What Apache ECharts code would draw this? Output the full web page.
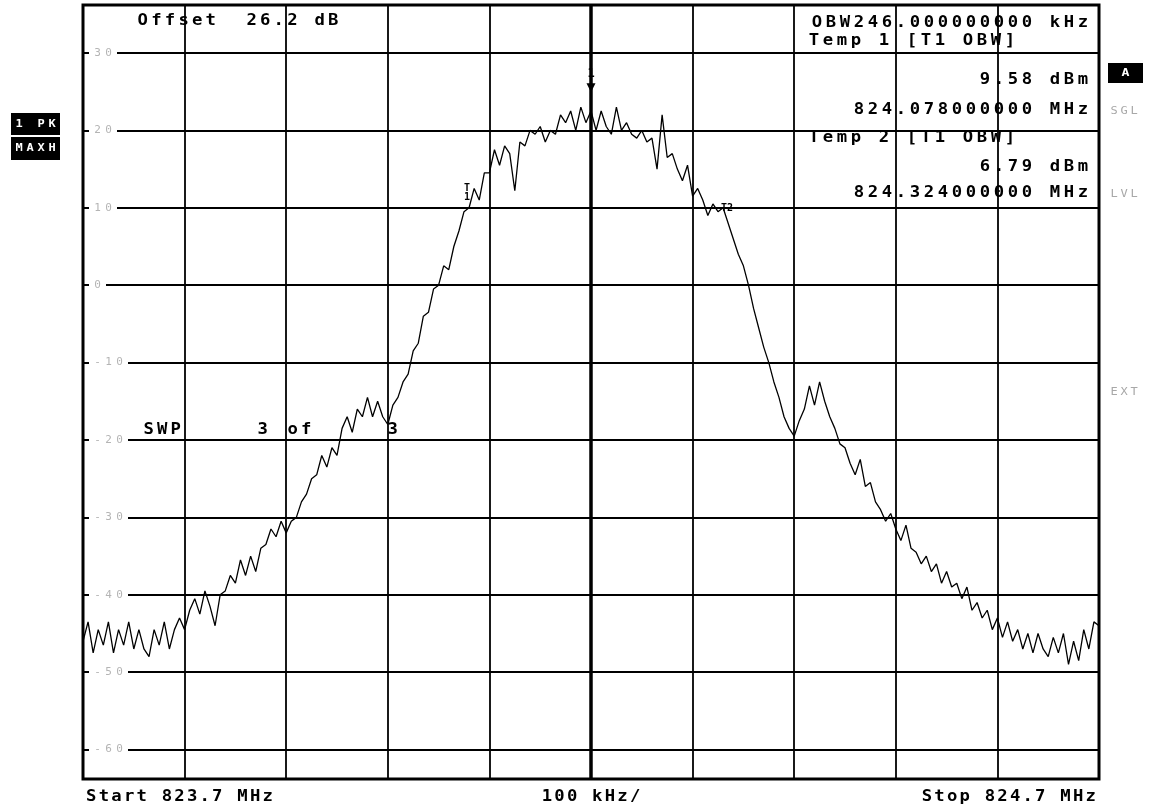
<!DOCTYPE html>
<html><head><meta charset="utf-8">
<script src="https://cdn.jsdelivr.net/npm/echarts@6/dist/echarts.min.js"></script>
<style>html,body{margin:0;padding:0;background:#fff}#c{width:1154px;height:811px}</style>
</head><body><div id="c"></div>
<script>
// Sweep: 823.7 MHz .. 824.7 MHz, 5 kHz per point
const freqStartMHz = 823.7;
const freqStopMHz = 824.7;
const freqStepMHz = 0.005;
const levelsDbm = [
 -46,-43.5,-47.5,-44.5,-46.5,-43.5,-47.5,-44.5,-46.5,-43.5,
 -47,-44.5,-47,-48,-44.5,-46.5,-43.5,-47,-44.5,-43,
 -44.5,-42,-40.5,-42.5,-39.5,-41.5,-44,-40,-39.5,-37.5,
 -38.5,-35.5,-37.5,-35,-37,-34,-33.5,-31.5,-32.5,-30.5,
 -32,-30.5,-30,-28,-27,-25,-24.5,-22,-23.5,-21,
 -22,-18.5,-17,-19,-16,-17,-14.5,-17,-15,-17,
 -18,-15.5,-14.5,-12.5,-11.5,-8.5,-7.5,-4,-3.5,-0.5,
 0,2.5,2,5,7,9.5,10,12.5,11,14.5,
 14.5,17.5,15.5,18,17,12.2,18.5,18,20,19.5,
 20.5,18.5,20,19.5,22,21,22.5,20,23,21,
 22.5,20,22.5,20.5,19.5,23,20,21,19.5,19,
 20,18.5,19,15,22,16.5,17,15,13.5,15.5,
 11.5,12.5,11,9,10.5,9.5,10,8,6,4,
 2.5,0,-3,-5.5,-8,-10,-12.5,-14.5,-17,-18.5,
 -19.5,-17.5,-16,-13,-15.5,-12.5,-15,-17,-18.5,-20.5,
 -21,-23,-24.5,-22.5,-26,-25.5,-28,-29,-30.5,-29.5,
 -31.5,-33,-31,-34,-34.5,-36,-35,-37,-36,-38.5,
 -37,-39,-38.5,-40.5,-39,-42,-41,-43,-42,-44.5,
 -43,-45.5,-43.5,-46,-44.5,-47,-45,-47.5,-45,-47,
 -48,-45.5,-47.5,-45,-49,-46,-48.5,-44.5,-47,-43.5,
 -44
];
const refLevelDbm = 36.2;
const bottomLevelDbm = -63.8;
const centerFreqMHz = 824.2;
const peakMarker = [824.2, 25.5];
const temp1 = [824.078, 9.58];
const temp2 = [824.324, 6.79];

const mono = "'DejaVu Sans Mono', monospace";
const SX = 1.15;
function spaced(s){ return s.split('').map(ch => '{c|' + (ch === ' ' ? '\u00a0' : ch) + '}').join(''); }
function txt(str, x, y, pitch, align, opts){
  opts = opts || {};
  const sx = opts.sx || SX;
  return { type:'text', x:x, y:y, z:100, scaleX: sx, style:{
    text: spaced(str), align: align, verticalAlign:'middle',
    rich:{ c:{ width: pitch / sx, align:'center', fontFamily: mono, fontSize: opts.size || 15,
      fontWeight: opts.weight || 'bold', fill: opts.color || '#000', color: opts.color || '#000' } } } };
}

const data = levelsDbm.map((v,i) => [+(freqStartMHz + i*freqStepMHz).toFixed(4), v]);

const chart = echarts.init(document.getElementById('c'));
chart.setOption({
  animation:false,
  backgroundColor:'#fff',
  grid:{ left:83, right:55, top:5, bottom:32, show:true, borderColor:'#000', borderWidth:3, backgroundColor:'#fff' },
  xAxis:{ type:'value', min:freqStartMHz, max:freqStopMHz, interval:0.1,
    axisLine:{show:false}, axisTick:{show:false}, axisLabel:{show:false},
    splitLine:{ show:true, lineStyle:{ color:'#000', width:1.8 } } },
  yAxis:{ type:'value', min:bottomLevelDbm, max:refLevelDbm, splitNumber:10, minInterval:10, maxInterval:10,
    axisLine:{show:false}, axisTick:{show:false},
    axisLabel:{ inside:true, margin:6, showMinLabel:false, showMaxLabel:false,
      formatter: v => (Math.abs(v/10 - Math.round(v/10)) < 1e-6 ? spaced(String(Math.round(v))) : ''),
      backgroundColor:'#fff', padding:[1,3,1,3],
      rich:{ c:{ width:11, align:'center', color:'#b4b4b4', fontSize:11, fontFamily: mono } } },
    splitLine:{ show:true, lineStyle:{ color:'#000', width:1.8 } } },
  series:[{
    type:'line', data:data, showSymbol:false, z:5,
    lineStyle:{ color:'#000', width:1.3 },
    markLine:{ silent:true, symbol:'none', label:{show:false},
      lineStyle:{ color:'#000', width:3.5, type:'solid' },
      data:[ { xAxis: centerFreqMHz } ] },
    markPoint:{ silent:true,
      data:[
        { coord: peakMarker, symbol:'triangle', symbolRotate:180, symbolSize:[9,9],
          itemStyle:{color:'#000'},
          label:{ show:true, position:'top', distance:3, formatter:'1', color:'#000', fontFamily:mono, fontSize:12, fontWeight:'bold' } },
        { coord: temp1, symbol:'circle', symbolSize:0,
          label:{ show:true, position:'inside', offset:[0,-18], formatter:'T\n1', lineHeight:9, color:'#000', fontFamily:mono, fontSize:10, fontWeight:'bold' } },
        { coord: temp2, symbol:'circle', symbolSize:0,
          label:{ show:true, position:'inside', offset:[10,-24], formatter:'T2', color:'#000', fontFamily:mono, fontSize:10, fontWeight:'bold' } }
      ] }
  }],
  graphic:[
    txt('Offset  26.2 dB', 136, 21, 13.6, 'left'),
    txt('OBW246.000000000 kHz', 1090, 23, 14, 'right'),
    txt('Temp 1 [T1 OBW]', 807, 41, 14, 'left'),
    txt('9.58 dBm', 1090, 80, 14, 'right'),
    txt('824.078000000 MHz', 1090, 110, 14, 'right'),
    txt('Temp 2 [T1 OBW]', 807, 138, 14, 'left'),
    txt('6.79 dBm', 1090, 167, 14, 'right'),
    txt('824.324000000 MHz', 1090, 193, 14, 'right'),
    txt('SWP', 142, 430, 13.5, 'left'),
    txt('3', 256, 430, 13.5, 'left'),
    txt('of', 286, 430, 13.5, 'left'),
    txt('3', 386, 430, 13.5, 'left'),
    txt('Start 823.7 MHz', 85, 797, 12.6, 'left'),
    txt('100 kHz/', 591, 797, 12.6, 'center'),
    txt('Stop 824.7 MHz', 1097, 797, 12.6, 'right'),
    { type:'rect', shape:{x:1108,y:63,width:35,height:20}, style:{fill:'#000'}, z:100 },
    txt('A', 1125.5, 73.5, 9, 'center', {color:'#fff', size:11, sx:1.2}),
    txt('SGL', 1109, 111, 10, 'left', {color:'#a8a8a8', size:10, weight:'normal', sx:1.2}),
    txt('LVL', 1109, 194, 10, 'left', {color:'#a8a8a8', size:10, weight:'normal', sx:1.2}),
    txt('EXT', 1109, 392, 10, 'left', {color:'#a8a8a8', size:10, weight:'normal', sx:1.2}),
    { type:'rect', shape:{x:11,y:113,width:49,height:22}, style:{fill:'#000'}, z:100 },
    txt('1 PK', 35.5, 124, 11, 'center', {color:'#fff', size:10, sx:1.2}),
    { type:'rect', shape:{x:11,y:137,width:49,height:23}, style:{fill:'#000'}, z:100 },
    txt('MAXH', 35.5, 148.5, 11, 'center', {color:'#fff', size:10, sx:1.2})
  ]
});
</script></body></html>
